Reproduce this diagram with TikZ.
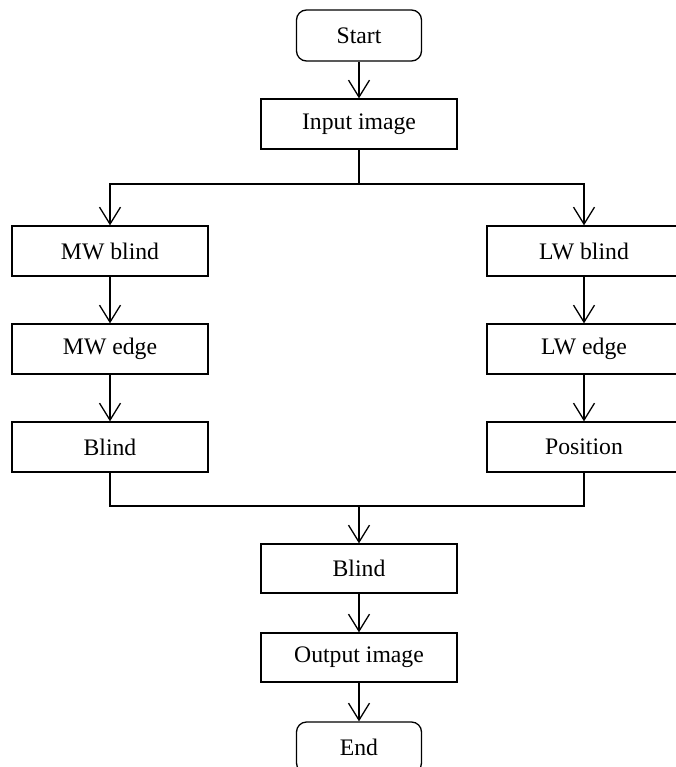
\documentclass[tikz,border=0pt]{standalone}
\usepackage{fontspec}
\setmainfont{Liberation Serif}
\usetikzlibrary{arrows.meta, positioning}

\tikzset{
  box/.style={draw, line width=1.3pt, minimum width=196pt, minimum height=50pt, inner sep=0pt, font=\fontsize{23.7}{28}\selectfont},
  term/.style={box, rounded corners=10pt, minimum width=125pt, minimum height=51pt},
  arr/.style={-{Straight Barb[length=17pt, width=21pt, line width=1.3pt]}},
  link/.style={line width=1.3pt}
}

\begin{document}
\begin{tikzpicture}[x=1pt, y=-1pt]
    \useasboundingbox (0,0) rectangle (676,767);

    % main column, top
    \node[term] (start) at (359, 35.5) {Start};
    \node[box] (input) at (359, 124) {Input image};

    % two branches
    \foreach \n/\y/\left/\right in {1/251/MW blind/LW blind, 2/349/MW edge/LW edge, 3/447/Blind/Position} {
        \node[box] (mw\n) at (110, \y) {\left};
        \node[box, minimum width=194pt] (lw\n) at (584, \y) {\right};
    }

    % main column, bottom
    \node[box, minimum height=49pt] (blind) at (359, 568.5) {Blind};
    \node[box, minimum height=49pt] (output) at (359, 657.5) {Output image};
    \node[term] (end) at (359, 747.5) {End};

    % split and merge points
    \coordinate (split) at (359, 184);
    \coordinate (merge) at (359, 506);

    % connectors
    \draw[link, arr] (start) -- (input);
    \draw[link] (input) -- (split);
    \draw[link, arr] (split) -| (mw1);
    \draw[link, arr] (split) -| (lw1);
    \draw[link, arr] (mw1) -- (mw2);
    \draw[link, arr] (mw2) -- (mw3);
    \draw[link, arr] (lw1) -- (lw2);
    \draw[link, arr] (lw2) -- (lw3);
    \draw[link] (mw3) |- (merge);
    \draw[link] (lw3) |- (merge);
    \draw[link, arr] (merge) -- (blind);
    \draw[link, arr] (blind) -- (output);
    \draw[link, arr] (output) -- (end);
\end{tikzpicture}
\end{document}
